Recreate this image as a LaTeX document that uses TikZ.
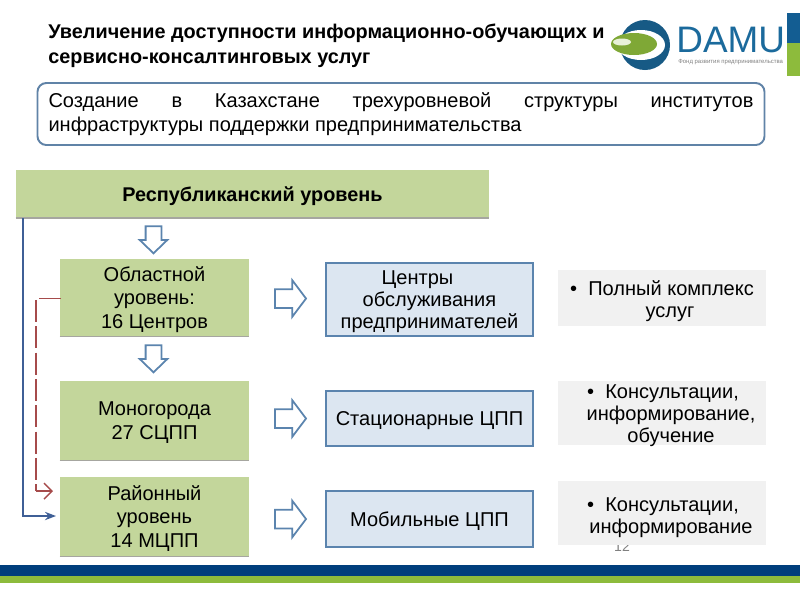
\documentclass[tikz,border=0pt]{standalone}
\usepackage{fontspec}
\setmainfont{Liberation Sans}
\usetikzlibrary{positioning, arrows.meta, shapes.arrows}
\definecolor{levelgreen}{HTML}{C3D69B}
\definecolor{framegray}{HTML}{A6A6A0}
\definecolor{steelblue}{HTML}{5B84AE}
\definecolor{paleblue}{HTML}{DCE6F1}
\definecolor{palegray}{HTML}{F1F1F1}
\definecolor{navybar}{HTML}{003E7C}
\definecolor{limebar}{HTML}{8DBB3C}
\definecolor{linkblue}{HTML}{3F5F96}
\definecolor{linkred}{HTML}{A64B4B}
\definecolor{logoblue}{HTML}{1B6A9C}

\begin{document}
\begin{tikzpicture}[
  x=0.02cm, y=-0.02cm,
  level/.style={fill=levelgreen, minimum width=189*0.02cm, align=center, inner sep=0pt, text depth=0pt,
    font=\fontsize{11.4}{13.6}\selectfont},
  service/.style={draw=steelblue, line width=1pt, fill=paleblue, minimum width=207*0.02cm, text depth=0pt,
    align=center, inner sep=0pt, font=\fontsize{11.4}{12.5}\selectfont},
  note/.style={fill=palegray, minimum width=208*0.02cm, inner sep=0pt},
  notetext/.style={align=center, inner sep=0pt, text depth=0pt, font=\fontsize{11.4}{12.5}\selectfont},
  blockarrow/.style={shape=single arrow, draw=steelblue, fill=white, line width=1pt},
  rightblock/.style={blockarrow, inner xsep=0pt, inner ysep=8.5*0.02cm, minimum width=36*0.02cm, minimum height=31*0.02cm,
    single arrow head extend=9*0.02cm, single arrow tip angle=106},
  downblock/.style={blockarrow, shape border rotate=270, inner xsep=7*0.02cm, inner ysep=0pt, minimum width=27*0.02cm, minimum height=27*0.02cm,
    single arrow head extend=6*0.02cm, single arrow tip angle=92},
  link/.style={line width=1.1pt, -{Stealth[length=2.2mm]}}
]
  \useasboundingbox (0,0) rectangle (800,600);

  % Heading
  \node[anchor=north west, inner sep=0pt, align=left, font=\fontsize{11.3}{14.2}\selectfont\bfseries] (title) at (48,24)
    {Увеличение доступности информационно-обучающих и\\сервисно-консалтинговых услуг};

  % Logo
  \fill[logoblue!85!black] (645,45) circle (25);
  \fill[white] (641,45) ellipse (24 and 15);
  \fill[limebar!90!black] (634,44) ellipse (23 and 11);
  \fill[white!80!limebar] (622,42) ellipse (9 and 3.5);
  \node[anchor=west, inner sep=0pt, text=logoblue, font=\fontsize{21}{21}\selectfont] (damu) at (676,40) {DAMU};
  \node[anchor=north west, inner sep=0pt, text=gray, font=\fontsize{3.4}{3.4}\selectfont] (tagline) at (678,59) {Фонд развития предпринимательства};
  \fill[logoblue!70!navybar] (787,13) rectangle (800,43);
  \fill[limebar] (787,43) rectangle (800,76);

  % Goal frame
  \node[draw=steelblue!85!gray, line width=1.1pt, rounded corners=5pt, minimum width=727*0.02cm, minimum height=62*0.02cm,
    text width=705*0.02cm, align=justify, inner sep=0pt, font=\fontsize{11.4}{13.3}\selectfont] (goal) at (401,114)
    {Создание в Казахстане трехуровневой структуры институтов инфраструктуры поддержки предпринимательства};

  % Page number (under the last note)
  \node[text=gray, inner sep=0pt, font=\fontsize{8}{8}\selectfont] (pagenum) at (622,547) {12};

  % Levels
  \node[level, minimum width=473*0.02cm, minimum height=48*0.02cm, font=\fontsize{11.3}{12}\selectfont\bfseries] (republic) at (252.5,194) {Республиканский уровень};
  \node[level, minimum height=77*0.02cm] (region) at (154.5,297.5) {Областной\\уровень:\\16 Центров};
  \node[level, minimum height=79*0.02cm] (mono) at (154.5,420.5) {Моногорода\\27 СЦПП};
  \node[level, minimum height=79*0.02cm] (district) at (154.5,516.5) {Районный\\уровень\\14 МЦПП};
  \draw[framegray, line width=1.1pt] (republic.south west) -- (republic.south east);
  \draw[framegray, line width=0.8pt] (region.south west) -- (region.south east);
  \draw[framegray, line width=0.8pt] (mono.south west) -- (mono.south east);
  \draw[framegray, line width=0.8pt] (district.south west) -- (district.south east);

  % Services
  \node[service, minimum height=73*0.02cm] (centres) at (429.5,299.5) {Центры\hspace*{0.48cm}\\обслуживания\\предпринимателей};
  \node[service, minimum height=55*0.02cm] (fixed) at (429.5,418.5) {Стационарные ЦПП};
  \node[service, minimum height=56*0.02cm] (mobile) at (429.5,519) {Мобильные ЦПП};

  % Notes
  \node[note, minimum height=56*0.02cm] (full) at (662,298) {};
  \node[notetext] (fulltext) at (670,299.5) {•\ \ Полный комплекс\hspace*{0.32cm}\\услуг};
  \node[note, minimum height=64*0.02cm] (advice) at (662,413) {};
  \node[notetext] (advicetext) at (671,414) {•\ \ Консультации,\hspace*{0.32cm}\\информирование,\\обучение};
  \node[note, minimum height=64*0.02cm] (advicetwo) at (662,513) {};
  \node[notetext] (advicetwotext) at (671,516) {•\ \ Консультации,\hspace*{0.32cm}\\информирование};

  % Block arrows
  \node[downblock] (downone) at (153.5,236) {};
  \node[downblock] (downtwo) at (153.5,355) {};
  \node[rightblock] (rightone) at (287,298.5) {};
  \node[rightblock] (righttwo) at (287,418.5) {};
  \node[rightblock] (rightthree) at (287,519) {};

  % Side links
  \coordinate (bluestart) at (23,218);
  \coordinate (blueend) at (56,516);
  \coordinate (redstart) at (61,298.5);
  \coordinate (redcorner) at (36,491);
  \coordinate (redend) at (53,491);
  \draw[link, linkblue] (bluestart) |- (blueend);
  \draw[linkred, line width=1.1pt, dash pattern=on 12.5pt off 2.5pt] (redstart) -| (redcorner);
  \draw[linkred, line width=0.8pt, -{Straight Barb[length=1.6mm]}] (redcorner) -- (redend);

  % Footer bars
  \fill[navybar] (0,565) rectangle (800,576);
  \fill[limebar] (0,576) rectangle (800,583);
\end{tikzpicture}
\end{document}
